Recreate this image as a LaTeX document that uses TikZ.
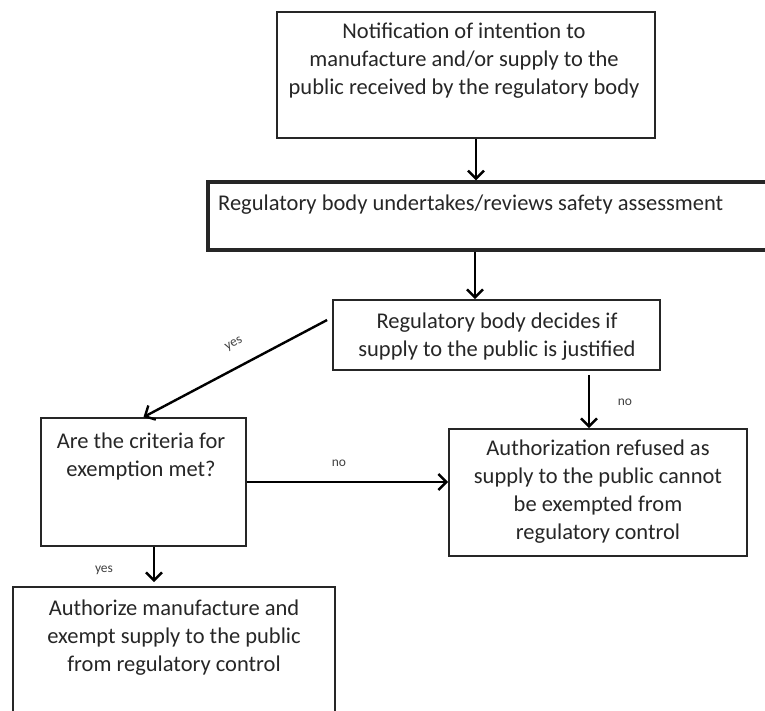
\documentclass[tikz,border=0pt]{standalone}
\usepackage{fontspec}
\setmainfont{Carlito}
\usetikzlibrary{arrows.meta,calc}
\begin{document}
\begin{tikzpicture}[x=1pt,y=-1pt,
  box/.style={draw=black!85,line width=1.8pt,rectangle,inner sep=0pt},
  txt/.style={align=center,font=\fontsize{22.5}{28}\selectfont,text=black!85,inner sep=0pt},
  arr/.style={draw=black,line width=2.4pt,-{Straight Barb[length=8pt,width=16pt,line width=2.4pt]}},
  lbl/.style={font=\fontsize{13.5}{14}\selectfont,text=black!75,inner sep=0pt}]
\useasboundingbox (0,0) rectangle (765,711);
\clip (0,0) rectangle (765,711);
% boxes
\node[box,minimum width=378pt,minimum height=126pt] (n1) at (466,75) {};
\node[box,line width=3.4pt,minimum width=582pt,minimum height=68pt] (n2) at (499,216) {};
\node[box,minimum width=327pt,minimum height=70pt] (n3) at (496.5,335) {};
\node[box,minimum width=205pt,minimum height=128pt] (n4) at (143.5,482) {};
\node[box,minimum width=298pt,minimum height=127pt] (n5) at (598,492.5) {};
\node[box,minimum width=322pt,minimum height=143pt] (n6) at (174,658.5) {};
% texts
\node[txt] (t1) at (464,61) {Notification of intention to\\manufacture and/or supply to the\\public received by the regulatory body};
\node[txt,anchor=west] (t2) at (218,205) {Regulatory body undertakes/reviews safety assessment};
\node[txt] (t3) at (497,337) {Regulatory body decides if\\supply to the public is justified};
\node[txt] (t4) at (141,456) {Are the criteria for\\exemption met?};
\node[txt] (t5) at (598,492) {Authorization refused as\\supply to the public cannot\\be exempted from\\regulatory control};
\node[txt] (t6) at (174,638) {Authorize manufacture and\\exempt supply to the public\\from regulatory control};
% connector coordinates
\coordinate (c1) at (476,0);
\coordinate (c2) at (475,0);
\coordinate (c3) at (589,0);
\coordinate (c4) at (154,0);
% connectors
\draw[arr] (n1.south -| c1) -- (n2.north -| c1);
\draw[arr] (n2.south -| c2) -- (n3.north -| c2);
\draw[arr] ($(n3.west)+(-5,-15)$) -- (n4.north);
\draw[arr] (n4.east) -- (n4.east -| n5.west);
\draw[arr,shorten <=4pt] (n3.south -| c3) -- (n5.north -| c3);
\draw[arr] (n4.south -| c4) -- ($(n6.north -| c4)+(0,-4)$);
% labels
\node[lbl,rotate=28] (l1) at (234,344) {yes};
\node[lbl] (l2) at (339,463) {no};
\node[lbl] (l3) at (625,402) {no};
\node[lbl] (l4) at (104,570) {yes};
\end{tikzpicture}
\end{document}
